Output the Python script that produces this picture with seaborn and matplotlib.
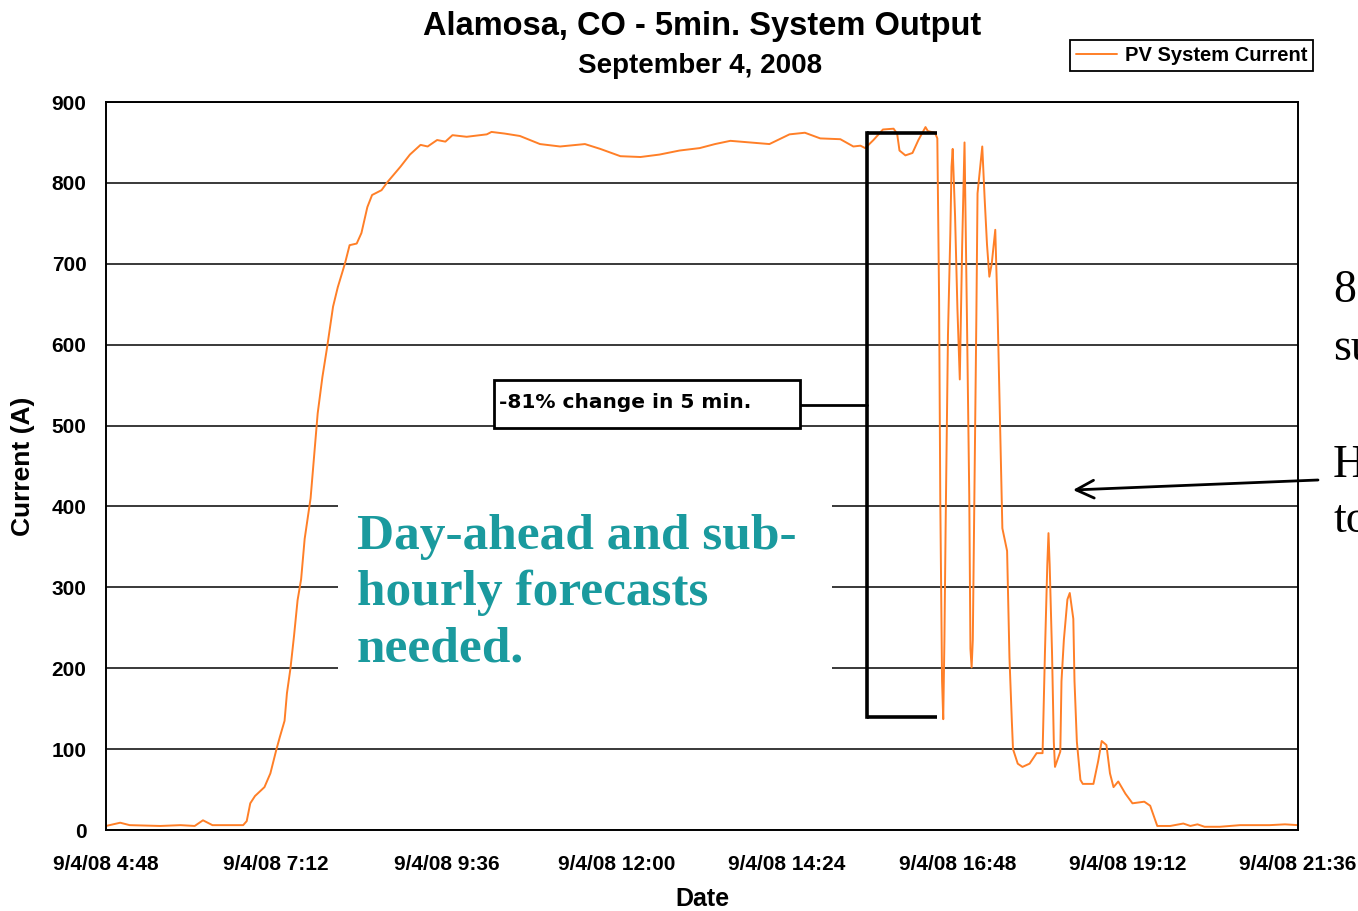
import matplotlib
matplotlib.use("Agg")
import matplotlib.pyplot as plt
import seaborn as sns
import pandas as pd
from matplotlib.patches import Rectangle

# ---------------- data ----------------
minutes = [
    288, 294, 300, 308, 334, 351, 363, 370, 378, 404,
    407, 410, 414, 422, 427, 432, 435, 439, 441, 444,
    447, 450, 453, 456, 461, 465, 467, 471, 475, 480,
    484, 490, 494, 500, 504, 509, 513, 521, 526, 537,
    545, 554, 560, 568, 575, 581, 593, 610, 614, 625,
    638, 655, 672, 693, 706, 723, 740, 756, 773, 790,
    803, 816, 833, 849, 866, 879, 892, 909, 920, 926,
    930, 937, 945, 954, 957, 959, 964, 970, 975, 981,
    983, 989, 991, 992.5, 993.5, 995, 996, 997, 998, 999,
    1000, 1002, 1003, 1004, 1006, 1008, 1010, 1012, 1014, 1016,
    1018, 1019, 1020, 1021, 1023, 1024, 1025, 1029, 1031, 1033,
    1035, 1037, 1040, 1042, 1044, 1046, 1050, 1052, 1054, 1055,
    1059, 1063, 1069, 1075, 1080, 1082, 1084, 1085, 1086, 1088,
    1089.5, 1090.5, 1095, 1096, 1098, 1101, 1103, 1106, 1107, 1109,
    1112, 1114, 1123, 1127, 1130, 1134, 1137, 1140, 1144, 1150,
    1156, 1166, 1171, 1177, 1188, 1199, 1205, 1211, 1217, 1230,
    1247, 1272, 1285, 1296,
]
current = [
    5, 7, 9, 6, 5, 6, 5, 12, 6, 6,
    11, 33, 42, 53, 70, 99, 115, 135, 169, 200,
    240, 284, 310, 360, 410, 480, 515, 560, 597, 647,
    671, 700, 723, 725, 738, 770, 785, 791, 801, 820,
    835, 847, 845, 853, 851, 859, 857, 860, 863, 861,
    858, 848, 845, 848, 842, 833, 832, 835, 840, 843,
    848, 852, 850, 848, 860, 862, 855, 854, 845, 846,
    843, 853, 866, 867, 861, 840, 834, 837, 853, 869,
    864, 862, 855, 655, 408, 184, 137, 235, 373, 494,
    612, 738, 820, 842, 759, 644, 557, 722, 850, 638,
    414, 224, 201, 235, 499, 633, 787, 845, 781, 724,
    684, 700, 742, 638, 506, 373, 345, 213, 135, 100,
    82, 78, 82, 95, 95, 219, 328, 367, 328, 219,
    109, 78, 97, 184, 235, 285, 293, 261, 184, 109,
    62, 57, 57, 85, 110, 105, 70, 53, 60, 45,
    33, 35, 30, 5, 5, 8, 5, 7, 4, 4,
    6, 6, 7, 6,
]
tick_minutes = [288, 432, 576, 720, 864, 1008, 1152, 1296]
tick_labels = ["9/4/08 4:48", "9/4/08 7:12", "9/4/08 9:36", "9/4/08 12:00",
               "9/4/08 14:24", "9/4/08 16:48", "9/4/08 19:12", "9/4/08 21:36"]
y_ticks = [0, 100, 200, 300, 400, 500, 600, 700, 800, 900]
series_name = "PV System Current"

# ---------------- style ----------------
sns.set_theme(style="white")
plt.rcParams['font.family'] = ['Liberation Sans', 'DejaVu Sans']
plt.rcParams['text.color'] = 'black'
plt.rcParams['axes.labelcolor'] = 'black'

W, H = 1358, 911
fig = plt.figure(figsize=(W / 100, H / 100), dpi=100)
fig.patch.set_facecolor("white")

def fx(px):
    return px / W

def fy(py):
    return 1 - py / H

ax = fig.add_axes([fx(106), fy(830), (1298 - 106) / W, (830 - 102) / H])

df = pd.DataFrame({"Date": minutes, "Current (A)": current})
sns.lineplot(data=df, x="Date", y="Current (A)", ax=ax, sort=False,
             estimator=None, color="#FF7F27", linewidth=1.4,
             label=series_name, zorder=2)

ax.set_xlim(288, 1296)
ax.set_ylim(0, 900)
ax.set_xticks(tick_minutes)
ax.set_xticklabels(tick_labels)
ax.set_yticks(y_ticks)

ax.set_axisbelow(True)
ax.grid(axis="y", color="#2a2a2a", linewidth=1.3)
ax.grid(axis="x", visible=False)
for s in ax.spines.values():
    s.set_color("black")
    s.set_linewidth(1.4)

ax.tick_params(axis="both", direction="out", color="black", width=1.3,
               labelsize=15, labelcolor="black")
ax.tick_params(axis="x", length=7, pad=11)
ax.tick_params(axis="y", length=6, pad=8)
for lab in ax.get_xticklabels() + ax.get_yticklabels():
    lab.set_fontweight("bold")

ax.set_xlabel("Date", fontsize=18, fontweight="bold", color="black")
ax.set_ylabel("Current (A)", fontsize=19, fontweight="bold", color="black")
ax.xaxis.set_label_coords(0.5, (830 - 887) / 728)
ax.yaxis.set_label_coords((35 - 106) / 1192, 0.5)

# legend
leg = ax.legend(loc="upper right", bbox_to_anchor=(fx(1313), fy(40)),
                bbox_transform=fig.transFigure, frameon=True, fancybox=False,
                edgecolor="black", framealpha=1, borderpad=0.3,
                handlelength=2.0, handletextpad=0.4, borderaxespad=0,
                prop={"weight": "bold", "size": 14.5})
leg.get_frame().set_linewidth(1.3)
for t in leg.get_texts():
    t.set_color("black")

# titles
fig.text(fx(702), fy(35), "Alamosa, CO - 5min. System Output",
         ha="center", va="baseline", fontsize=23.5, fontweight="bold",
         color="black")
fig.text(fx(700), fy(73), "September 4, 2008",
         ha="center", va="baseline", fontsize=20, fontweight="bold",
         color="black")

# white panel behind the teal text
fig_rect = Rectangle((fx(338), fy(700)), (832 - 338) / W, (700 - 495) / H,
                     transform=fig.transFigure, facecolor="white",
                     edgecolor="none", zorder=1)
ax.add_patch(fig_rect)
fig_rect.set_clip_on(False)

teal = "#1A9A9E"
for txt, base in [("Day-ahead and sub-", 549), ("hourly forecasts", 605),
                  ("needed.", 662)]:
    fig.text(fx(357), fy(base), txt, ha="left", va="baseline",
             fontsize=37, fontweight="bold", color=teal,
             family=["Liberation Serif", "DejaVu Serif"])

# bracket marking the drop
bx0, bx1 = 931.5, 991.0
ax.plot([bx0, bx1], [862, 862], color="black", lw=2.6, zorder=3,
        solid_capstyle="butt")
ax.plot([bx0, bx1], [140, 140], color="black", lw=2.6, zorder=3,
        solid_capstyle="butt")
ax.plot([bx0, bx0], [140, 862], color="black", lw=2.6, zorder=3,
        solid_capstyle="projecting")
ax.plot([875, bx0], [525, 525], color="black", lw=2.0, zorder=3)

# annotation box
box = Rectangle((fx(494), fy(428)), (800 - 494) / W, (428 - 380) / H,
                transform=fig.transFigure, facecolor="white",
                edgecolor="black", linewidth=2.0, zorder=4)
ax.add_patch(box)
box.set_clip_on(False)
fig.text(fx(499), fy(408), "-81% change in 5 min.", ha="left", va="baseline",
         fontsize=14.5, fontweight="bold", family=["DejaVu Sans"], zorder=5,
         color="black")

# cut-off slide text on the right (clipped by the figure edge, as in the slide)
for txt, base in [("8", 302), ("su", 360), ("H", 477), ("to", 532)]:
    fig.text(fx(1333), fy(base), txt, ha="left", va="baseline",
             fontsize=33, color="black",
             family=["Liberation Serif", "DejaVu Serif"])

# arrow
ax.annotate("", xy=(fx(1073), fy(490)), xytext=(fx(1318), fy(480)),
            xycoords="figure fraction", textcoords="figure fraction",
            annotation_clip=False,
            arrowprops=dict(arrowstyle="->", lw=2, color="black",
                            mutation_scale=32, shrinkA=0, shrinkB=0))

fig.savefig("out.png", dpi=100, facecolor="white")
